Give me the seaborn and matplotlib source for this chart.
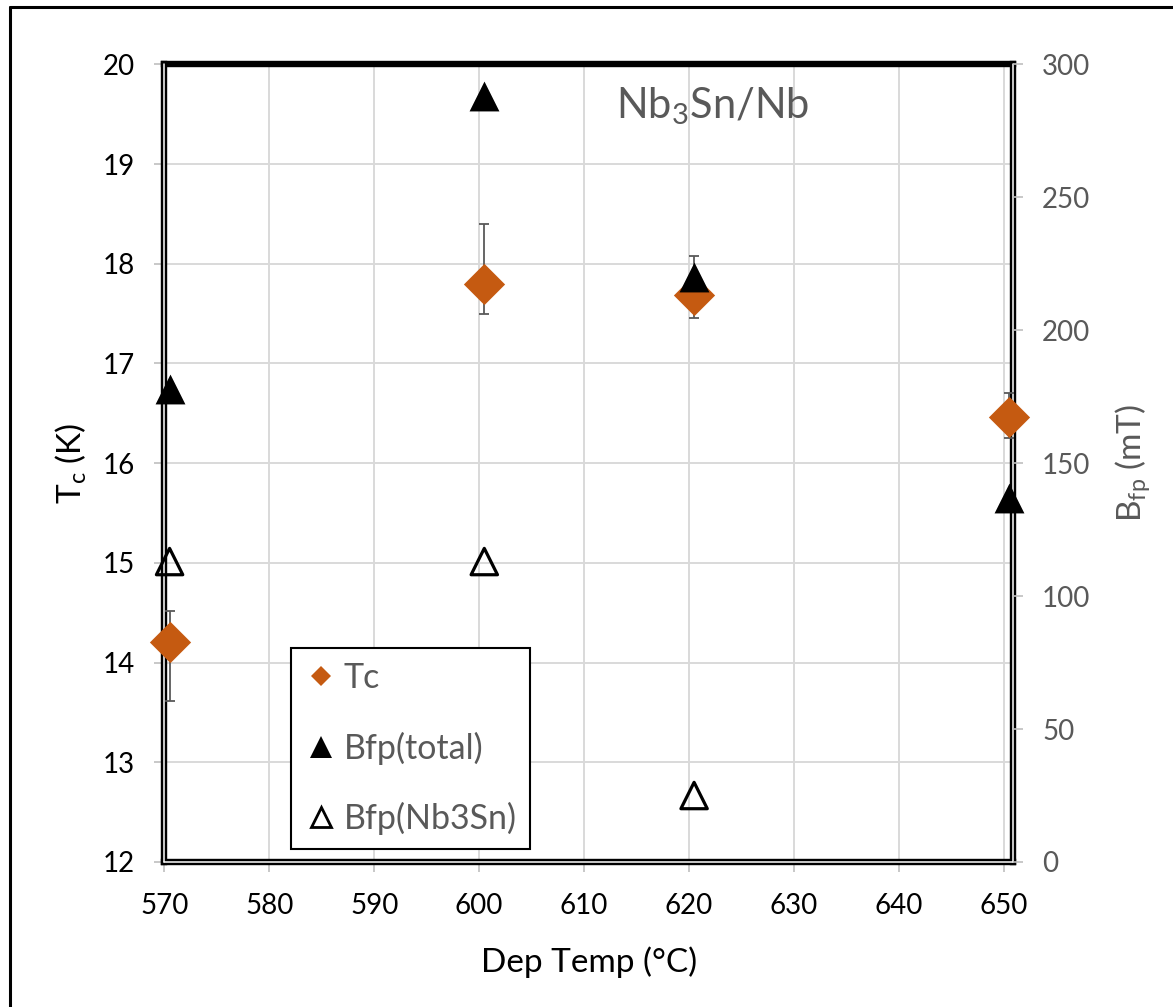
import matplotlib
matplotlib.use("Agg")
import matplotlib.pyplot as plt
from matplotlib.lines import Line2D
import seaborn as sns
import pandas as pd

# ---- data ----
dep_temp = [570.5, 600.5, 620.5, 650.5]
tc = [14.21, 17.80, 17.69, 16.46]
tc_err_low = [0.60, 0.30, 0.23, 0.21]
tc_err_high = [0.31, 0.60, 0.39, 0.24]
bfp_total = [178, 288, 220, 137]
nb3sn_temp = [570.5, 600.5, 620.5]
bfp_nb3sn = [113, 113, 25]

x_ticks = [570, 580, 590, 600, 610, 620, 630, 640, 650]
tc_ticks = [12, 13, 14, 15, 16, 17, 18, 19, 20]
bfp_ticks = [0, 50, 100, 150, 200, 250, 300]

ORANGE = "#c55a11"
GREY_TXT = "#595959"
GRID = "#d9d9d9"
TICK = "#bfbfbf"

sns.set_theme(style="white")
plt.rcParams["font.family"] = ["Lato", "DejaVu Sans"]
plt.rcParams["mathtext.default"] = "regular"

df_tc = pd.DataFrame({"temp": dep_temp, "tc": tc})
df_tot = pd.DataFrame({"temp": dep_temp, "bfp": bfp_total})
df_nb = pd.DataFrame({"temp": nb3sn_temp, "bfp": bfp_nb3sn})

fig = plt.figure(figsize=(11.73, 10.07), dpi=100)
ax = fig.add_axes([0.1401, 0.1440, 0.7235, 0.7921])
ax2 = ax.twinx()

# Tc with asymmetric error bars
ax.errorbar(dep_temp, tc, yerr=[tc_err_low, tc_err_high], fmt="none",
            ecolor=GREY_TXT, elinewidth=1.3, capsize=3.6, capthick=1.3, zorder=4)
sns.scatterplot(data=df_tc, x="temp", y="tc", ax=ax, marker="D", s=21 ** 2,
                color=ORANGE, edgecolor=ORANGE, linewidth=0, zorder=5, clip_on=False)

# Bfp on the secondary axis
sns.scatterplot(data=df_tot, x="temp", y="bfp", ax=ax2, marker="^", s=21.5 ** 2,
                color="black", edgecolor="black", linewidth=0, clip_on=False)
sns.scatterplot(data=df_nb, x="temp", y="bfp", ax=ax2, marker="^", s=19 ** 2,
                facecolor="none", edgecolor="black", linewidth=2.3, clip_on=False)

ax.set_xlim(570, 650.9)
ax.set_ylim(12, 20)
ax2.set_ylim(0, 300)
ax.set_xticks(x_ticks)
ax.set_yticks(tc_ticks)
ax2.set_yticks(bfp_ticks)

ax.grid(True, color=GRID, lw=1.4)
ax.set_axisbelow(True)
ax2.grid(False)

ax.tick_params(axis="both", which="major", direction="out", length=7, width=1.2,
               color=TICK, labelsize=20, labelcolor="black")
ax.tick_params(axis="y", pad=14, left=True)
ax.tick_params(axis="x", pad=15, bottom=True)
ax2.tick_params(axis="y", direction="out", length=7, width=1.2, color=TICK,
                labelsize=20, labelcolor=GREY_TXT, pad=14, right=True)

ax.set_xlabel("Dep Temp (\u00b0C)", fontsize=24, color="black", labelpad=20)
ax.set_ylabel("T$_c$ (K)", fontsize=24, color="black", labelpad=10)
ax2.set_ylabel("B$_{fp}$ (mT)", fontsize=24, color=GREY_TXT, labelpad=16)

# frame: thick black, double look on left/right/bottom
for side, sp in ax.spines.items():
    sp.set_visible(True)
    sp.set_color("black")
    sp.set_linewidth(4.6)
    sp.set_zorder(2.5)
for sp in ax2.spines.values():
    sp.set_visible(False)
for xs, ys in [([0, 0], [0, 1]), ([1, 1], [0, 1]), ([0, 1], [0, 0])]:
    ax.plot(xs, ys, transform=ax.transAxes, color="white", lw=1.1,
            clip_on=False, zorder=3)

ax.text(0.532, 0.947, "Nb$_3$Sn/Nb", transform=ax.transAxes, fontsize=30,
        color=GREY_TXT, va="center", ha="left")

handles = [
    Line2D([], [], ls="", marker="D", markersize=10, color=ORANGE, mew=0),
    Line2D([], [], ls="", marker="^", markersize=16, color="black", mew=0),
    Line2D([], [], ls="", marker="^", markersize=14, markerfacecolor="none",
           markeredgecolor="black", mew=2),
]
leg = ax2.legend(handles, ["Tc", "Bfp(total)", "Bfp(Nb3Sn)"], loc="lower left",
                 bbox_to_anchor=(0.149, 0.0166), fontsize=24.5, frameon=True,
                 fancybox=False, framealpha=1, edgecolor="black",
                 handlelength=1.0, handletextpad=0.15, borderpad=0.4,
                 labelspacing=1.1, borderaxespad=0)
leg.get_frame().set_linewidth(1.5)
for t in leg.get_texts():
    t.set_color(GREY_TXT)

# outer border of the figure (open at right and bottom)
fig.add_artist(Line2D([10 / 1173, 10 / 1173], [0, 1 - 7 / 1007],
                      transform=fig.transFigure, color="black", lw=2.2))
fig.add_artist(Line2D([10 / 1173, 1], [1 - 7 / 1007, 1 - 7 / 1007],
                      transform=fig.transFigure, color="black", lw=2.2))

fig.savefig("out.png", dpi=100)
